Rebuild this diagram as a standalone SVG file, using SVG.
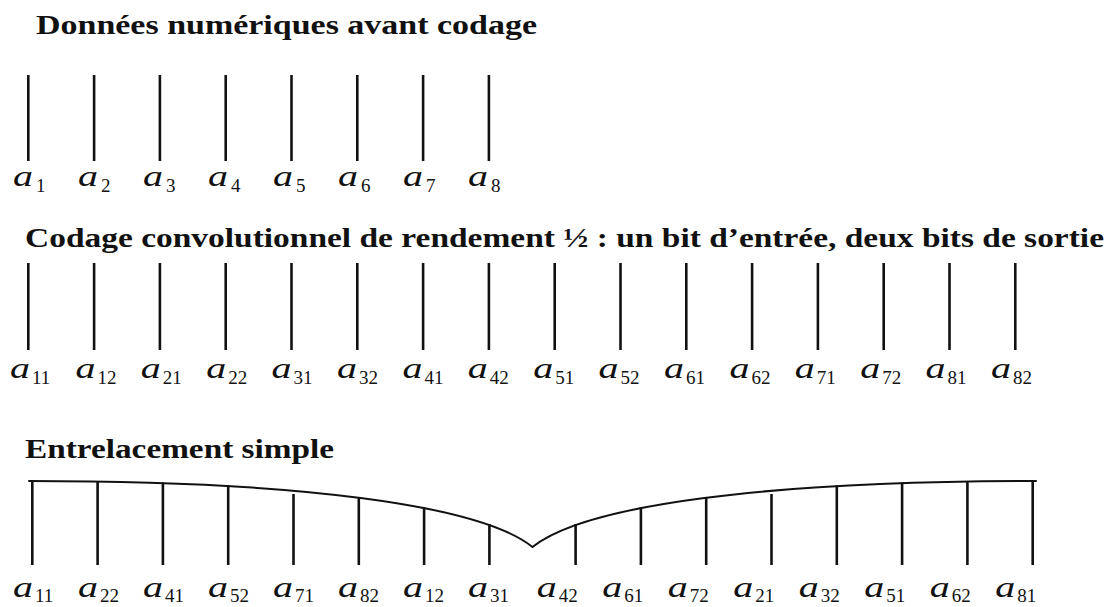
<svg xmlns="http://www.w3.org/2000/svg" width="1117" height="607" viewBox="0 0 1117 607">
<style>
.t{font-family:"Liberation Serif","Times New Roman",serif;font-weight:bold;font-size:27px;fill:#111}
.a{font-family:"Liberation Serif","Times New Roman",serif;font-style:italic;font-size:30px;fill:#111}
.s{font-family:"Liberation Serif","Times New Roman",serif;font-size:19px;fill:#111}
.b{stroke:#111;stroke-width:2.6;fill:none}
.c{stroke:#111;stroke-width:2;fill:none;stroke-linejoin:round;stroke-linecap:round}
</style>
<rect width="1117" height="607" fill="#fff"/>
<text class="t" x="36" y="34" textLength="501" lengthAdjust="spacingAndGlyphs">Données numériques avant codage</text>
<text class="t" x="25" y="247" textLength="1079" lengthAdjust="spacingAndGlyphs">Codage convolutionnel de rendement ½ : un bit d’entrée, deux bits de sortie</text>
<text class="t" x="25" y="458" textLength="309" lengthAdjust="spacingAndGlyphs">Entrelacement simple</text>

<g id="row1">
<g id="r1-a1"><line class="b" x1="28.3" y1="75" x2="28.3" y2="161"/><text class="a" x="13" y="186" textLength="20" lengthAdjust="spacingAndGlyphs">a</text><text class="s" x="36" y="192">1</text></g>
<g id="r1-a2"><line class="b" x1="94.1" y1="75" x2="94.1" y2="161"/><text class="a" x="78" y="186" textLength="20" lengthAdjust="spacingAndGlyphs">a</text><text class="s" x="101" y="192">2</text></g>
<g id="r1-a3"><line class="b" x1="159.9" y1="75" x2="159.9" y2="161"/><text class="a" x="143" y="186" textLength="20" lengthAdjust="spacingAndGlyphs">a</text><text class="s" x="166" y="192">3</text></g>
<g id="r1-a4"><line class="b" x1="225.7" y1="75" x2="225.7" y2="161"/><text class="a" x="208" y="186" textLength="20" lengthAdjust="spacingAndGlyphs">a</text><text class="s" x="231" y="192">4</text></g>
<g id="r1-a5"><line class="b" x1="291.5" y1="75" x2="291.5" y2="161"/><text class="a" x="273" y="186" textLength="20" lengthAdjust="spacingAndGlyphs">a</text><text class="s" x="296" y="192">5</text></g>
<g id="r1-a6"><line class="b" x1="357.3" y1="75" x2="357.3" y2="161"/><text class="a" x="338" y="186" textLength="20" lengthAdjust="spacingAndGlyphs">a</text><text class="s" x="361" y="192">6</text></g>
<g id="r1-a7"><line class="b" x1="423.1" y1="75" x2="423.1" y2="161"/><text class="a" x="403" y="186" textLength="20" lengthAdjust="spacingAndGlyphs">a</text><text class="s" x="426" y="192">7</text></g>
<g id="r1-a8"><line class="b" x1="488.9" y1="75" x2="488.9" y2="161"/><text class="a" x="468" y="186" textLength="20" lengthAdjust="spacingAndGlyphs">a</text><text class="s" x="491" y="192">8</text></g>
</g>

<g id="row2">
<g id="r2-a11"><line class="b" x1="28.3" y1="263" x2="28.3" y2="350"/><text class="a" x="10" y="378" textLength="20" lengthAdjust="spacingAndGlyphs">a</text><text class="s" x="32" y="384">11</text></g>
<g id="r2-a12"><line class="b" x1="94.1" y1="263" x2="94.1" y2="350"/><text class="a" x="75.4" y="378" textLength="20" lengthAdjust="spacingAndGlyphs">a</text><text class="s" x="97.4" y="384">12</text></g>
<g id="r2-a21"><line class="b" x1="159.9" y1="263" x2="159.9" y2="350"/><text class="a" x="140.8" y="378" textLength="20" lengthAdjust="spacingAndGlyphs">a</text><text class="s" x="162.8" y="384">21</text></g>
<g id="r2-a22"><line class="b" x1="225.7" y1="263" x2="225.7" y2="350"/><text class="a" x="206.2" y="378" textLength="20" lengthAdjust="spacingAndGlyphs">a</text><text class="s" x="228.2" y="384">22</text></g>
<g id="r2-a31"><line class="b" x1="291.5" y1="263" x2="291.5" y2="350"/><text class="a" x="271.6" y="378" textLength="20" lengthAdjust="spacingAndGlyphs">a</text><text class="s" x="293.6" y="384">31</text></g>
<g id="r2-a32"><line class="b" x1="357.3" y1="263" x2="357.3" y2="350"/><text class="a" x="337" y="378" textLength="20" lengthAdjust="spacingAndGlyphs">a</text><text class="s" x="359" y="384">32</text></g>
<g id="r2-a41"><line class="b" x1="423.1" y1="263" x2="423.1" y2="350"/><text class="a" x="402.4" y="378" textLength="20" lengthAdjust="spacingAndGlyphs">a</text><text class="s" x="424.4" y="384">41</text></g>
<g id="r2-a42"><line class="b" x1="488.9" y1="263" x2="488.9" y2="350"/><text class="a" x="467.8" y="378" textLength="20" lengthAdjust="spacingAndGlyphs">a</text><text class="s" x="489.8" y="384">42</text></g>
<g id="r2-a51"><line class="b" x1="554.7" y1="263" x2="554.7" y2="350"/><text class="a" x="533.2" y="378" textLength="20" lengthAdjust="spacingAndGlyphs">a</text><text class="s" x="555.2" y="384">51</text></g>
<g id="r2-a52"><line class="b" x1="620.5" y1="263" x2="620.5" y2="350"/><text class="a" x="598.6" y="378" textLength="20" lengthAdjust="spacingAndGlyphs">a</text><text class="s" x="620.6" y="384">52</text></g>
<g id="r2-a61"><line class="b" x1="686.3" y1="263" x2="686.3" y2="350"/><text class="a" x="664" y="378" textLength="20" lengthAdjust="spacingAndGlyphs">a</text><text class="s" x="686" y="384">61</text></g>
<g id="r2-a62"><line class="b" x1="752.1" y1="263" x2="752.1" y2="350"/><text class="a" x="729.4" y="378" textLength="20" lengthAdjust="spacingAndGlyphs">a</text><text class="s" x="751.4" y="384">62</text></g>
<g id="r2-a71"><line class="b" x1="817.9" y1="263" x2="817.9" y2="350"/><text class="a" x="794.8" y="378" textLength="20" lengthAdjust="spacingAndGlyphs">a</text><text class="s" x="816.8" y="384">71</text></g>
<g id="r2-a72"><line class="b" x1="883.7" y1="263" x2="883.7" y2="350"/><text class="a" x="860.2" y="378" textLength="20" lengthAdjust="spacingAndGlyphs">a</text><text class="s" x="882.2" y="384">72</text></g>
<g id="r2-a81"><line class="b" x1="949.5" y1="263" x2="949.5" y2="350"/><text class="a" x="925.6" y="378" textLength="20" lengthAdjust="spacingAndGlyphs">a</text><text class="s" x="947.6" y="384">81</text></g>
<g id="r2-a82"><line class="b" x1="1015.3" y1="263" x2="1015.3" y2="350"/><text class="a" x="991" y="378" textLength="20" lengthAdjust="spacingAndGlyphs">a</text><text class="s" x="1013" y="384">82</text></g>
</g>

<g id="connectors">
<path class="c" d="M29,481 C300,481 480,505 532.5,547 C585,505 765,481 1036,481"/>
</g>

<g id="row3">
<g id="r3-a11"><line class="b" x1="32.3" y1="480" x2="32.3" y2="565"/><text class="a" x="13" y="597" textLength="20" lengthAdjust="spacingAndGlyphs">a</text><text class="s" x="35" y="602">11</text></g>
<g id="r3-a22"><line class="b" x1="97.6" y1="481" x2="97.6" y2="565"/><text class="a" x="78" y="597" textLength="20" lengthAdjust="spacingAndGlyphs">a</text><text class="s" x="100" y="602">22</text></g>
<g id="r3-a41"><line class="b" x1="162.9" y1="482.5" x2="162.9" y2="565"/><text class="a" x="143" y="597" textLength="20" lengthAdjust="spacingAndGlyphs">a</text><text class="s" x="165" y="602">41</text></g>
<g id="r3-a52"><line class="b" x1="228.2" y1="485.5" x2="228.2" y2="565"/><text class="a" x="208" y="597" textLength="20" lengthAdjust="spacingAndGlyphs">a</text><text class="s" x="230" y="602">52</text></g>
<g id="r3-a71"><line class="b" x1="293.5" y1="494" x2="293.5" y2="565"/><text class="a" x="273" y="597" textLength="20" lengthAdjust="spacingAndGlyphs">a</text><text class="s" x="295" y="602">71</text></g>
<g id="r3-a82"><line class="b" x1="358.8" y1="497" x2="358.8" y2="565"/><text class="a" x="338" y="597" textLength="20" lengthAdjust="spacingAndGlyphs">a</text><text class="s" x="360" y="602">82</text></g>
<g id="r3-a12"><line class="b" x1="424.1" y1="507.5" x2="424.1" y2="565"/><text class="a" x="403" y="597" textLength="20" lengthAdjust="spacingAndGlyphs">a</text><text class="s" x="425" y="602">12</text></g>
<g id="r3-a31"><line class="b" x1="489.4" y1="524" x2="489.4" y2="565"/><text class="a" x="468" y="597" textLength="20" lengthAdjust="spacingAndGlyphs">a</text><text class="s" x="490" y="602">31</text></g>
<g id="r3-a42"><line class="b" x1="575.6" y1="524" x2="575.6" y2="565"/><text class="a" x="536.7" y="597" textLength="20" lengthAdjust="spacingAndGlyphs">a</text><text class="s" x="558.7" y="602">42</text></g>
<g id="r3-a61"><line class="b" x1="640.9" y1="507.5" x2="640.9" y2="565"/><text class="a" x="602.2" y="597" textLength="20" lengthAdjust="spacingAndGlyphs">a</text><text class="s" x="624.2" y="602">61</text></g>
<g id="r3-a72"><line class="b" x1="706.2" y1="497" x2="706.2" y2="565"/><text class="a" x="667.7" y="597" textLength="20" lengthAdjust="spacingAndGlyphs">a</text><text class="s" x="689.7" y="602">72</text></g>
<g id="r3-a21"><line class="b" x1="771.5" y1="494" x2="771.5" y2="565"/><text class="a" x="733.2" y="597" textLength="20" lengthAdjust="spacingAndGlyphs">a</text><text class="s" x="755.2" y="602">21</text></g>
<g id="r3-a32"><line class="b" x1="836.8" y1="485.5" x2="836.8" y2="565"/><text class="a" x="798.7" y="597" textLength="20" lengthAdjust="spacingAndGlyphs">a</text><text class="s" x="820.7" y="602">32</text></g>
<g id="r3-a51"><line class="b" x1="902.1" y1="482.5" x2="902.1" y2="565"/><text class="a" x="864.2" y="597" textLength="20" lengthAdjust="spacingAndGlyphs">a</text><text class="s" x="886.2" y="602">51</text></g>
<g id="r3-a62"><line class="b" x1="967.4" y1="481" x2="967.4" y2="565"/><text class="a" x="929.7" y="597" textLength="20" lengthAdjust="spacingAndGlyphs">a</text><text class="s" x="951.7" y="602">62</text></g>
<g id="r3-a81"><line class="b" x1="1032.7" y1="480" x2="1032.7" y2="565"/><text class="a" x="995.2" y="597" textLength="20" lengthAdjust="spacingAndGlyphs">a</text><text class="s" x="1017.2" y="602">81</text></g>
</g>
</svg>
